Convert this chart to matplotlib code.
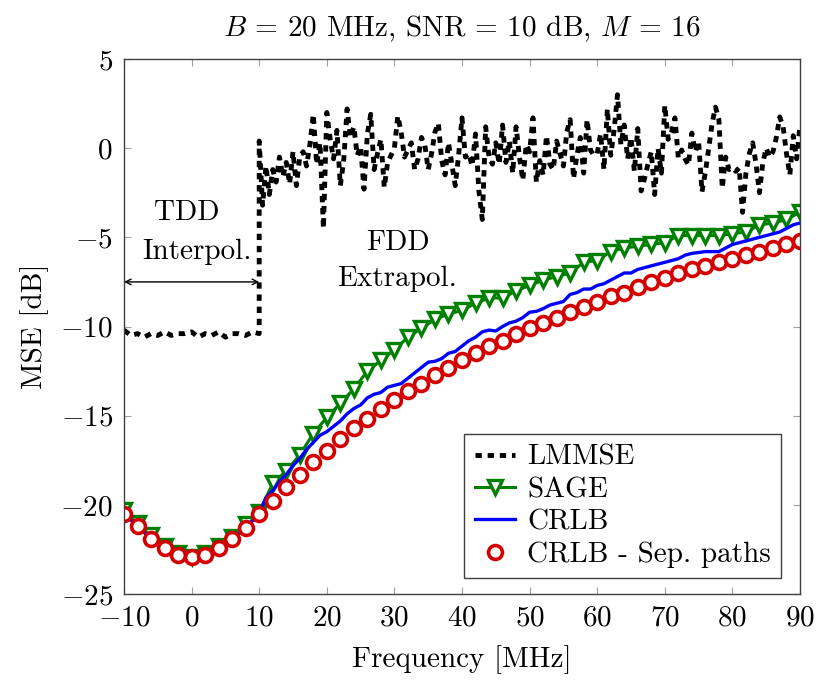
import numpy as np
import matplotlib
matplotlib.use("Agg")
import matplotlib.pyplot as plt

plt.rcParams['font.family'] = ['cmr10', 'DejaVu Serif']
plt.rcParams['mathtext.fontset'] = 'cm'
plt.rcParams['axes.formatter.use_mathtext'] = True

# LMMSE, TDD part (1 MHz steps, -10..10)
f_tdd = np.arange(-10, 11, 1)
lmmse_tdd = [-10.2, -10.5, -10.4, -10.6, -10.4, -10.5, -10.3, -10.5, -10.4, -10.4, -10.3,
             -10.6, -10.4, -10.5, -10.3, -10.6, -10.4, -10.4, -10.5, -10.3, -10.4]

# LMMSE, FDD part (0.5 MHz steps, 10..90)
f_fdd = np.arange(10, 90.01, 0.5)
lmmse_fdd = [0.4, -3.2, -1.0, -2.6, -1.2, -1.9, -0.5, -1.6, -0.8, -2.0,
             -0.2, -2.1, -0.5, -0.2, -1.0, 0.2, 1.9, -0.9, 0.3, -4.5,
             2.0, 0.5, -0.6, 1.0, -2.1, -0.7, 2.2, 0.6, 1.2, -0.4,
             0.1, -2.3, 0.8, 1.9, -1.2, -0.3, 0.5, -2.2, -0.8, -0.4,
             0.0, 1.8, 0.9, -0.5, -0.1, 0.3, -1.2, -0.6, 0.6, 0.2,
             -1.2, -0.3, 0.9, 1.4, -0.7, -1.5, 0.3, -0.9, -2.1, -0.4,
             1.7, -0.5, -0.3, -1.0, 0.8, -2.4, -4.0, 1.2, -0.5, -0.9,
             0.3, -0.9, 1.3, -0.8, 0.4, -1.4, 1.2, -0.5, -1.8, 0.2,
             -0.2, 1.7, -1.9, -0.7, -1.5, 0.7, -0.9, -1.2, 0.4, -0.3,
             -1.0, 0.9, 1.6, -1.7, -0.4, 0.6, -1.4, 1.6, -0.1, -0.4,
             -0.3, 0.8, -1.2, 2.2, -0.4, 1.0, 3.0, 0.2, 1.3, -0.6,
             0.6, -1.3, 1.1, -2.4, -1.7, -0.9, -0.2, -2.6, 0.0, -1.4,
             2.4, 0.5, 0.9, 1.7, -0.55, -0.1, -0.6, -0.95, 0.85, -0.2,
             0.4, -2.45, -1.35, 0.0, 1.4, 2.3, 1.6, -2.25, -0.5, -1.2,
             -1.1, -1.3, -1.1, -3.6, -1.4, -0.3, 0.3, -0.9, -2.5, -0.8,
             0.0, -0.5, -0.2, 0.6, 1.75, 1.2, -0.3, -1.5, 0.7, -0.6,
             1.3]

# SAGE and CRLB sep. paths (2 MHz steps)
f_mark = np.arange(-10, 91, 2)
sage = [-20.3, -21.0, -21.7, -22.3, -22.7, -22.9, -22.7, -22.3, -21.8, -21.1,
        -20.4, -18.8, -18.1, -17.2, -16.0, -15.1, -14.3, -13.5, -12.5, -11.9,
        -11.3, -10.6, -10.1, -9.6, -9.3, -9.1, -8.7, -8.4, -8.4, -8.0,
        -7.7, -7.4, -7.2, -7.0, -6.4, -6.3, -5.8, -5.6, -5.5, -5.4,
        -5.3, -4.9, -4.9, -4.9, -4.9, -4.8, -4.7, -4.3, -4.2, -4.0, -3.6]
crlb_sep = [-20.5, -21.2, -21.9, -22.4, -22.8, -22.9, -22.8, -22.4, -21.9, -21.3,
            -20.5, -19.8, -19.0, -18.3, -17.6, -17.0, -16.3, -15.7, -15.2, -14.6,
            -14.1, -13.6, -13.2, -12.7, -12.3, -11.9, -11.5, -11.1, -10.8, -10.4,
            -10.1, -9.8, -9.5, -9.2, -8.9, -8.6, -8.3, -8.1, -7.8, -7.5,
            -7.3, -7.0, -6.8, -6.6, -6.4, -6.2, -6.0, -5.8, -5.6, -5.4, -5.2]

# CRLB (1 MHz steps)
f_crlb = np.arange(-10, 91, 1)
crlb = [-20.5, -20.85, -21.2, -21.55, -21.9, -22.15, -22.4, -22.6, -22.8, -22.85,
        -22.9, -22.85, -22.8, -22.6, -22.4, -22.15, -21.9, -21.6, -21.3, -20.9,
        -20.5, -19.6, -19.2, -18.7, -18.3, -17.8, -17.4, -16.9, -16.5, -16.1,
        -15.9, -15.6, -15.3, -14.9, -14.6, -14.4, -14.0, -13.8, -13.7, -13.4,
        -13.3, -13.2, -12.9, -12.6, -12.3, -12.0, -11.95, -11.8, -11.5, -11.4,
        -11.1, -10.8, -10.6, -10.3, -10.2, -10.25, -10.0, -9.8, -9.7, -9.5,
        -9.2, -9.15, -9.0, -8.8, -8.7, -8.6, -8.2, -8.1, -7.9, -7.9,
        -7.7, -7.6, -7.4, -7.2, -7.0, -7.0, -6.8, -6.7, -6.6, -6.5,
        -6.4, -6.3, -6.2, -6.0, -5.9, -5.85, -5.8, -5.8, -5.8, -5.6,
        -5.4, -5.3, -5.2, -5.1, -5.0, -4.9, -4.8, -4.7, -4.5, -4.3, -4.2]

f_lmmse = np.concatenate([f_tdd, f_fdd])
lmmse = np.concatenate([lmmse_tdd, lmmse_fdd])

fs = 21

fig = plt.figure(figsize=(8.25, 6.86), dpi=100)
ax = fig.add_axes([0.1503, 0.1341, 0.8194, 0.7799])

ax.plot(f_lmmse, lmmse, color='black', lw=3.5, linestyle=(0, (1.3, 1.2)), label='LMMSE')
ax.plot(f_mark, sage, color='#008000', lw=2.2, marker='v', markersize=10.5,
        markerfacecolor='white', markeredgewidth=2.4, label='SAGE')
ax.plot(f_crlb, crlb, color='blue', lw=2.4, label='CRLB')
ax.plot(f_mark, crlb_sep, linestyle='none', marker='o', markersize=10,
        markerfacecolor='white', markeredgecolor='#d40000', markeredgewidth=2.6,
        label='CRLB - Sep. paths')

ax.set_xlim(-10, 90)
ax.set_ylim(-25, 5)
ax.set_xticks(np.arange(-10, 91, 10))
ax.set_yticks(np.arange(-25, 6, 5))
ax.tick_params(direction='in', length=5, color='#a0a0a0', labelsize=fs,
               top=True, right=True, pad=8)
for s in ax.spines.values():
    s.set_color('#404040')
    s.set_linewidth(1.0)

ax.set_xlabel('Frequency [MHz]', fontsize=fs, labelpad=10)
ax.set_ylabel('MSE [dB]', fontsize=fs, labelpad=8)
ax.set_title('$B$ = 20 MHz, SNR = 10 dB, $M$ = 16', fontsize=fs, pad=16)

# annotations
ax.text(-0.7, -3.6, 'TDD', fontsize=fs, ha='center', va='center')
ax.text(0.8, -5.8, 'Interpol.', fontsize=fs, ha='center', va='center')
ax.text(30.5, -5.3, 'FDD', fontsize=fs, ha='center', va='center')
ax.text(30.4, -7.35, 'Extrapol.', fontsize=fs, ha='center', va='center')
ax.annotate('', xy=(-10, -7.5), xytext=(10, -7.5),
            arrowprops=dict(arrowstyle='<->', color='black', lw=1.0,
                            shrinkA=0, shrinkB=0))

leg = ax.legend(loc='lower right', bbox_to_anchor=(0.972, 0.03), borderaxespad=0,
                fontsize=fs, handlelength=1.4, handletextpad=0.4, labelspacing=0.2,
                fancybox=False, framealpha=1, edgecolor='#404040', borderpad=0.35)
leg.get_frame().set_linewidth(1.0)

fig.savefig('out.png', dpi=100)
